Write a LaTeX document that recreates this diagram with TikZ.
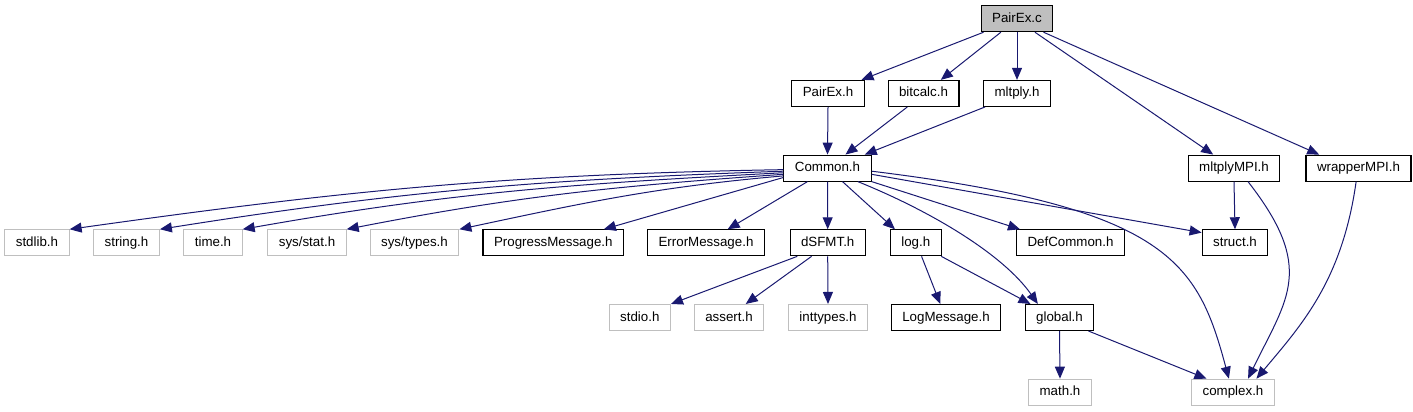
\documentclass[tikz,border=0pt]{standalone}
\usepackage{fontspec}
\setmainfont{Liberation Sans}
\usepackage{tikz}
\usetikzlibrary{arrows.meta}
\definecolor{inclblue}{RGB}{25,25,112}
\definecolor{inclgray}{RGB}{191,191,191}
\tikzset{
  filebox/.style={draw=black,line width=0.8pt,fill=white,minimum height=19.5pt,
                  inner xsep=8.25pt,inner ysep=0pt,text height=7.4pt,text depth=2.1pt,
                  font=\fontsize{10pt}{12pt}\selectfont},
  sysbox/.style={filebox,draw=inclgray},
  rootbox/.style={filebox,fill=inclgray},
  inclarrow/.style={-{Triangle[length=9pt,width=7.5pt]},draw=inclblue,line width=0.75pt},
}

\begin{document}
\begin{tikzpicture}[x=0.75pt,y=0.75pt]
\useasboundingbox (0,0) rectangle (1413,-411);

% ============ row 1: the source file ============
\node[rootbox] (pairexc) at (1017,-18.7) {PairEx.c};

% ============ row 2: direct headers ============
\node[filebox] (pairexh) at (828,-93.4) {PairEx.h};
\node[filebox] (bitcalc) at (923.5,-93.4) {bitcalc.h};
\node[filebox] (mltply) at (1017,-93.4) {mltply.h};

% ============ row 3 ============
\node[filebox] (common) at (827.5,-168.1) {Common.h};
\node[filebox] (mltplympi) at (1234,-168.1) {mltplyMPI.h};
\node[filebox] (wrappermpi) at (1358.5,-168.1) {wrapperMPI.h};

% ============ row 4: what Common.h pulls in ============
\foreach \n/\x/\lab in {stdlib/37/stdlib.h, string/126.5/string.h, time/213/time.h,
                         sysstat/307/sys\slash stat.h, systypes/414.5/sys\slash types.h} {
  \node[sysbox] (\n) at (\x,-242.8) {\lab};
}
\node[filebox] (progmsg) at (553.3,-242.8) {ProgressMessage.h};
\node[filebox] (errmsg) at (706,-242.8) {ErrorMessage.h};
\node[filebox] (dsfmt) at (827.7,-242.8) {dSFMT.h};
\node[filebox] (logh) at (915.8,-242.8) {log.h};
\node[filebox] (defcommon) at (1070.5,-242.8) {DefCommon.h};
\node[filebox] (struct) at (1235,-242.8) {struct.h};

% ============ row 5 ============
\node[sysbox] (stdio) at (639.8,-317.5) {stdio.h};
\node[sysbox] (assert) at (729,-317.5) {assert.h};
\node[sysbox] (inttypes) at (828,-317.5) {inttypes.h};
\node[filebox] (logmsg) at (946,-317.5) {LogMessage.h};
\node[filebox] (global) at (1059.5,-317.5) {global.h};

% ============ row 6 ============
\node[sysbox] (math) at (1060,-392.2) {math.h};
\node[sysbox] (complex) at (1233,-392.2) {complex.h};

% ============ edges ============
\draw[inclarrow] (pairexc.202) -- (pairexh.22);
\draw[inclarrow] (pairexc.220) -- (bitcalc.38);
\draw[inclarrow] (pairexc.south) -- (mltply.north);
\draw[inclarrow] (pairexc.323) -- (mltplympi.147);
\draw[inclarrow] (pairexc.333) -- (wrappermpi.161);

\draw[inclarrow] (pairexh.south) -- (common.north);
\draw[inclarrow] (bitcalc.220) -- (common.37);
\draw[inclarrow] (mltply.203) -- (common.20);

% fan to the left: long flat curves
\foreach \n/\o/\t/\a in {stdlib/182/181/8, string/184/182/9, time/186/183/10,
                         sysstat/188/184/11, systypes/190/185/12} {
  \draw[inclarrow] (common.\o) to[out=\t,in=\a] (\n.north east);
}
\draw[inclarrow] (common.192) -- (progmsg.15);
\draw[inclarrow] (common.214) -- (errmsg.32);
\draw[inclarrow] (common.south) -- (dsfmt.north);
\draw[inclarrow] (common.318) -- (logh.147);
\draw[inclarrow] (common.343) -- (defcommon.165);
\draw[inclarrow] (common.336) .. controls +(-22:80) and +(125:60) .. (global.148);
\draw[inclarrow] (common.352) -- (struct.163);
\draw[inclarrow] (common.356) .. controls +(-7:300) and +(105:120) .. (complex.107);

\draw[inclarrow] (mltplympi.south) -- (struct.north);
\draw[inclarrow] (mltplympi.316) .. controls +(-52:110) and +(64:90) .. (complex.42);
\draw[inclarrow] (wrappermpi.260) .. controls +(-98:100) and +(50:70) .. (complex.30);

\draw[inclarrow] (dsfmt.204) -- (stdio.north east);
\draw[inclarrow] (dsfmt.220) -- (assert.39);
\draw[inclarrow] (dsfmt.south) -- (inttypes.north);
\draw[inclarrow] (logh.293) -- (logmsg.113);
\draw[inclarrow] (logh.332) -- (global.155);
\draw[inclarrow] (global.south) -- (math.north);
\draw[inclarrow] (global.335) -- (complex.153);
\end{tikzpicture}
\end{document}
